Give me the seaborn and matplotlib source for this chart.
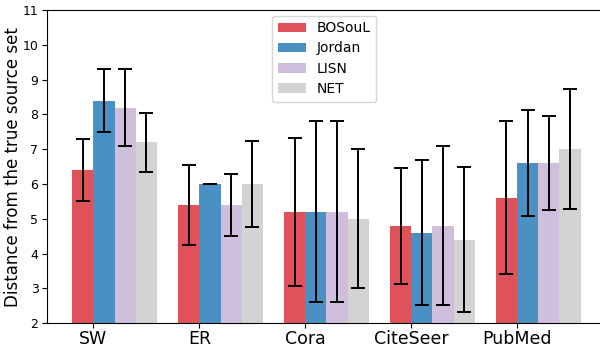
import pandas as pd
import matplotlib.pyplot as plt
import seaborn as sns
import numpy as np

# Data
datasets = ['SW', 'ER', 'Cora', 'CiteSeer', 'PubMed']
methods = ['BOSouL', 'Jordan', 'LISN', 'NET']

bosoul_mean = [6.4, 5.4, 5.2, 4.8, 5.6]
jordan_mean = [8.4, 6.0, 5.2, 4.6, 6.6]
lisn_mean = [8.2, 5.4, 5.2, 4.8, 6.6]
net_mean = [7.2, 6.0, 5.0, 4.4, 7.0]

bosoul_err = [0.9, 1.15, 2.13, 1.66, 2.2]
jordan_err = [0.9, 0.0, 2.6, 2.08, 1.53]
lisn_err = [1.1, 0.9, 2.6, 2.29, 1.35]
net_err = [0.84, 1.23, 2.0, 2.08, 1.73]

colors = ['#e0525a', '#4a90c2', '#cfbfdd', '#d3d3d3']

means = [bosoul_mean, jordan_mean, lisn_mean, net_mean]
errs = [bosoul_err, jordan_err, lisn_err, net_err]

rows = []
for m, vals, es in zip(methods, means, errs):
    for d, v, e in zip(datasets, vals, es):
        rows.append({'dataset': d, 'method': m, 'value': v, 'err': e})
df = pd.DataFrame(rows)

fig = plt.figure(figsize=(6.0, 3.49), dpi=100)
ax = fig.add_axes([0.078, 0.074, 0.925, 0.897])

sns.barplot(data=df, x='dataset', y='value', hue='method', palette=colors,
            saturation=1, errorbar=None, width=0.8, ax=ax)

# error bars at the bar centres seaborn placed
for container, m in zip(ax.containers, methods):
    sub = df[df['method'] == m]
    xs = [p.get_x() + p.get_width() / 2 for p in container.patches]
    ax.errorbar(xs, sub['value'].values, yerr=sub['err'].values, fmt='none',
                ecolor='black', elinewidth=1.4, capsize=5, capthick=1.4)

ax.set_ylim(2, 11)
ax.set_yticks(range(2, 12))
ax.set_xlim(-0.64, 4.6)
ax.set_xticks(np.arange(len(datasets)) - 0.2)
ax.set_xticklabels(datasets, fontsize=12.5)
ax.tick_params(axis='x', pad=1.5)
ax.tick_params(axis='y', labelsize=9, pad=2.5)
ax.set_xlabel('')
ax.set_ylabel('Distance from the true source set', fontsize=12)
ax.yaxis.set_label_coords(-0.044, 0.5)
ax.spines['right'].set_visible(False)

ax.legend(loc='upper center', fontsize=10, handlelength=2.0, labelspacing=0.45,
          bbox_to_anchor=(0.5, 1.0), borderaxespad=0.4)

plt.savefig('out.png', dpi=100)
